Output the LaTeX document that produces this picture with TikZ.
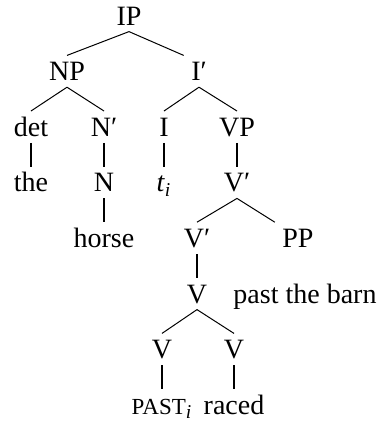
\documentclass[tikz,border=0pt]{standalone}
\usepackage{fontspec}
\setmainfont{Liberation Serif}
\newcommand{\fakesc}[1]{{\fontsize{11.5}{13}\selectfont #1}}
\usetikzlibrary{positioning}

\begin{document}
\begin{tikzpicture}[semithick,node distance=27.8pt,
		every node/.style={font=\fontsize{14}{16}\selectfont,text height=9.3pt,text depth=0pt,inner xsep=3.5pt,inner ysep=3pt},
		branch/.style={line width=.5pt},
		unary/.style={line width=1.1pt}]
		\useasboundingbox (-64.5pt,7.85pt) rectangle (127pt,-204.65pt);

		\node (ip) {IP};
		\node[below of=ip,xshift=-31pt] (np) {NP};
		\node[below of=ip,xshift=35pt] (ibar) {I′};
		\node[below of=np,xshift=-18pt] (det) {det};
		\node[below of=np,xshift=18.5pt] (nbar) {N′};
		\node[below of=ibar,xshift=-17.5pt] (infl) {I};
		\node[below of=ibar,xshift=19pt] (vp) {VP};
		\node[below of=det] (the) {the};
		\node[below of=nbar] (noun) {N};
		\node[below of=infl] (trace) {\textit{t}\textsubscript{\textit{i}}};
		\node[below of=vp] (vbar) {V′};
		\node[below of=noun] (horse) {horse};
		\node[below of=vbar,xshift=-20pt] (vbarb) {V′};
		\node[below of=vbar,xshift=30.5pt] (pp) {PP};
		\node[below of=vbarb] (verb) {V};
		\node[below of=pp,xshift=3.5pt] (ppwords) {past the barn};
		\node[below of=verb,xshift=-17.5pt] (vl) {V};
		\node[below of=verb,xshift=18.5pt] (vr) {V};
		\node[below of=vl] (past) {\fakesc{PAST}\textsubscript{\textit{i}}};
		\node[below of=vr] (raced) {raced};

		% branching
		\draw[branch] (ip.south) -- (np.north);
		\draw[branch] (ip.south) -- (ibar.north west);
		\draw[branch] (np.south) -- (det.north);
		\draw[branch] (np.south) -- (nbar.north);
		\draw[branch] (ibar.south) -- (infl.north);
		\draw[branch] (ibar.south) -- (vp.north);
		\draw[branch] (vbar.south) -- (vbarb.north);
		\draw[branch] (vbar.south) -- (pp.north west);
		\draw[branch] (verb.south) -- (vl.north);
		\draw[branch] (verb.south) -- (vr.north);
		% non-branching
		\draw[unary] (det) -- (the);
		\draw[unary] (nbar) -- (noun);
		\draw[unary] (noun) -- (horse);
		\draw[unary] (infl) -- (trace);
		\draw[unary] (vp) -- (vbar);
		\draw[unary] (vbarb) -- (verb);
		\draw[unary] (vl) -- (past);
		\draw[unary] (vr) -- (raced);
	\end{tikzpicture}
\end{document}
